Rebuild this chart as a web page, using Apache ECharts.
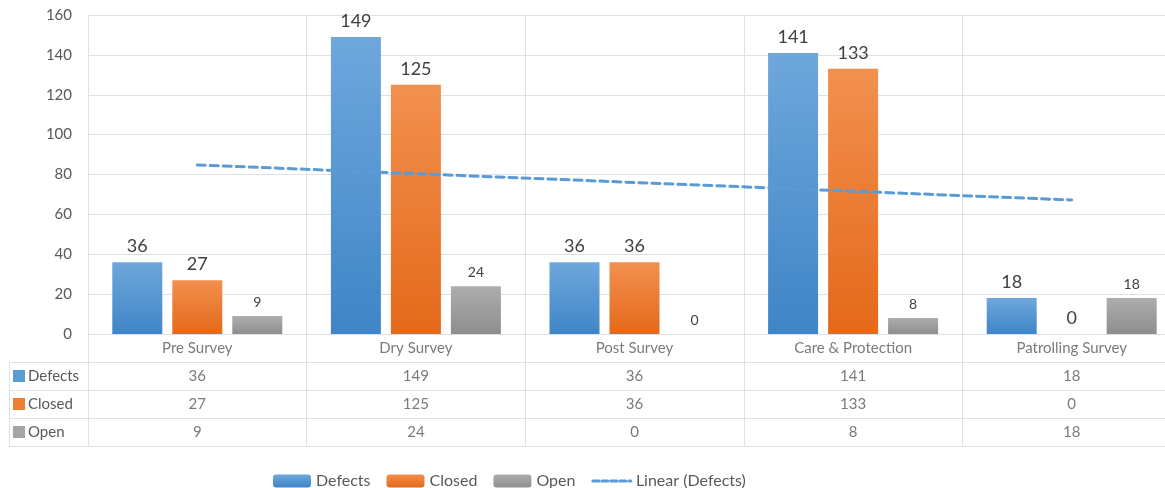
<!DOCTYPE html>
<html>
<head>
<meta charset="utf-8">
<script src="https://cdn.jsdelivr.net/npm/echarts@6/dist/echarts.min.js"></script>
<style>
  html, body { margin: 0; padding: 0; background: #fff; }
  #chart { width: 1165px; height: 488px; }
</style>
</head>
<body>
<div id="chart"></div>
<script>
// Defects / Closed / Open per survey stage, with data table
var categories = ['Pre Survey', 'Dry Survey', 'Post Survey', 'Care & Protection', 'Patrolling Survey'];
var defectCounts = [36, 149, 36, 141, 18];
var closedCounts = [27, 125, 36, 133, 0];
var openCounts = [9, 24, 0, 8, 18];
var trendDefects = [84.8, 80.4, 76.0, 71.6, 67.2];
var tableRows = ['', 'Defects', 'Closed', 'Open'];
var yMin = 0, yMax = 160, yStep = 20;

(function() {
  var ink = '#404040';
  var muted = '#595959';
  var rule = '#DDE1E7';
  var font = 'Lato, "Open Sans", sans-serif';

  function grad(top, bottom) {
    return new echarts.graphic.LinearGradient(0, 0, 0, 1, [
      { offset: 0, color: top },
      { offset: 1, color: bottom }
    ]);
  }
  var blue = grad('#6EA7DC', '#3F85C7');
  var orange = grad('#F2904F', '#E4691A');
  var gray = grad('#ADADAD', '#8E8E8E');

  // table cells: row 0 = category names, rows 1..3 = values
  var cells = [];
  categories.forEach(function(c, i) {
    cells.push({ value: [i, 0], text: c });
    cells.push({ value: [i, 1], text: String(defectCounts[i]) });
    cells.push({ value: [i, 2], text: String(closedCounts[i]) });
    cells.push({ value: [i, 3], text: String(openCounts[i]) });
  });

  var chart = echarts.init(document.getElementById('chart'), null, { renderer: 'canvas' });
  chart.setOption({
    animation: false,
    textStyle: { fontFamily: font },
    grid: [
      { left: 88, top: 15, width: 1093, height: 319, outerBoundsMode: 'none', containLabel: false },
      { left: 88, top: 334, width: 1093, height: 112, outerBoundsMode: 'none', containLabel: false }
    ],
    legend: {
      left: 268,
      top: 468,
      itemWidth: 38,
      itemHeight: 13,
      itemGap: 16,
      textStyle: { color: muted, fontSize: 16, fontFamily: font },
      data: ['Defects', 'Closed', 'Open', {
        name: 'Linear (Defects)',
        itemStyle: { opacity: 0 },
        lineStyle: { width: 3, type: [6, 3], cap: 'round' }
      }]
    },
    xAxis: [
      {
        type: 'category', gridIndex: 0, data: categories,
        axisLine: { lineStyle: { color: rule } },
        axisTick: { show: false },
        axisLabel: { show: false },
        splitLine: { show: true, lineStyle: { color: rule } }
      },
      {
        type: 'category', gridIndex: 1, data: categories,
        axisLine: { show: false },
        axisTick: { show: false },
        axisLabel: { show: false },
        splitLine: { show: true, lineStyle: { color: rule } }
      }
    ],
    yAxis: [
      {
        type: 'value', gridIndex: 0, min: yMin, max: yMax, interval: yStep,
        axisLine: { show: true, lineStyle: { color: rule } },
        axisTick: { show: false },
        axisLabel: { color: muted, fontSize: 15, margin: 16, fontFamily: font },
        splitLine: { lineStyle: { color: rule } }
      },
      {
        type: 'category', gridIndex: 1, data: tableRows, inverse: true,
        axisLine: { show: true, lineStyle: { color: rule } },
        axisTick: { show: false },
        splitLine: { show: true, lineStyle: { color: rule } },
        axisLabel: {
          align: 'left',
          margin: 75,
          color: muted,
          fontSize: 15,
          fontFamily: font,
          formatter: function(v) {
            if (!v) return '';
            var key = v === 'Defects' ? 'd' : (v === 'Closed' ? 'c' : 'o');
            return '{' + key + '|}{t|' + v + '}';
          },
          rich: {
            d: { backgroundColor: '#5B9BD5', width: 12, height: 12 },
            c: { backgroundColor: '#ED7D31', width: 12, height: 12 },
            o: { backgroundColor: '#A5A5A5', width: 12, height: 12 },
            t: { color: muted, fontSize: 15, fontFamily: font, padding: [0, 0, 0, 3] }
          }
        }
      }
    ],
    graphic: [
      {
        type: 'polyline', silent: true,
        shape: { points: [[88, 362.5], [9.5, 362.5], [9.5, 446.5], [88, 446.5]] },
        style: { stroke: rule, fill: null, lineWidth: 1 }
      },
      { type: 'line', silent: true, shape: { x1: 9.5, y1: 390.5, x2: 88, y2: 390.5 }, style: { stroke: rule, lineWidth: 1 } },
      { type: 'line', silent: true, shape: { x1: 9.5, y1: 418.5, x2: 88, y2: 418.5 }, style: { stroke: rule, lineWidth: 1 } }
    ],
    series: [
      {
        name: 'Defects', type: 'bar', data: defectCounts,
        barWidth: 50, barGap: '20%',
        itemStyle: { color: blue },
        label: { show: true, position: 'top', distance: 7, color: ink, fontSize: 18, fontFamily: font }
      },
      {
        name: 'Closed', type: 'bar', data: closedCounts,
        barWidth: 50, barGap: '20%',
        itemStyle: { color: orange },
        label: { show: true, position: 'top', distance: 7, color: ink, fontSize: 18, fontFamily: font }
      },
      {
        name: 'Open', type: 'bar', data: openCounts,
        barWidth: 50, barGap: '20%',
        itemStyle: { color: gray },
        label: { show: true, position: 'top', distance: 7, color: ink, fontSize: 14, fontFamily: font }
      },
      {
        name: 'Linear (Defects)', type: 'line', data: trendDefects,
        symbol: 'none', z: 5,
        itemStyle: { color: '#5B9BD5' },
        lineStyle: { color: '#5B9BD5', width: 3, type: [8, 5], cap: 'round' }
      },
      {
        type: 'scatter', xAxisIndex: 1, yAxisIndex: 1,
        symbolSize: 0, silent: true, legendHoverLink: false,
        data: cells,
        label: {
          show: true, position: 'inside',
          color: muted, fontSize: 15, fontFamily: font,
          formatter: function(p) { return p.data.text; }
        }
      }
    ]
  });
  window.addEventListener('resize', function() { chart.resize(); });
})();
</script>
</body>
</html>
